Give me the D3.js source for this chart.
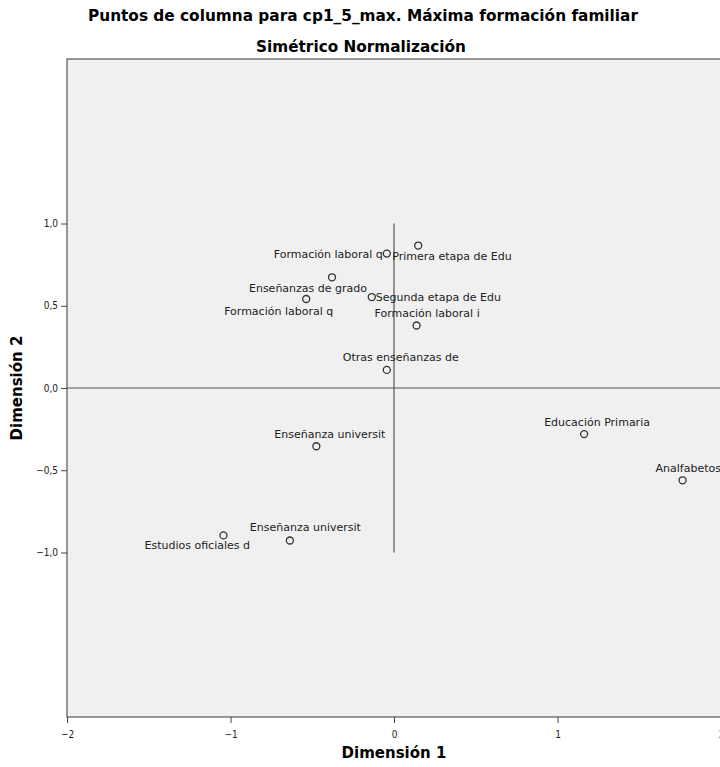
<!DOCTYPE html>
<html>
<head>
<meta charset="utf-8">
<script src="https://cdn.jsdelivr.net/npm/d3@7"></script>
<style>
  body { margin: 0; background: #fff; }
  svg text { font-family: "DejaVu Sans", sans-serif; }
</style>
</head>
<body>
<svg id="chart" width="720" height="767"></svg>
<script>
// column points (Dimension 1, Dimension 2)
const categories = [
  "Formación laboral q", "Primera etapa de Edu", "Enseñanzas de grado",
  "Formación laboral q", "Segunda etapa de Edu", "Formación laboral i",
  "Otras enseñanzas de", "Enseñanza universit", "Enseñanza universit",
  "Estudios oficiales d", "Educación Primaria", "Analfabetos"
];
const dim1 = [-0.044, 0.148, -0.379, -0.537, -0.136, 0.138, -0.044, -0.475, -0.637, -1.043, 1.163, 1.765];
const dim2 = [0.817, 0.866, 0.673, 0.541, 0.553, 0.380, 0.110, -0.354, -0.927, -0.896, -0.280, -0.561];
const xTicks = [-2, -1, 0, 1, 2];
const yTicks = [-1, -0.5, 0, 0.5, 1];

// label placement relative to each point
const labelPos = [
  [-4, 4, "end"], [-26, 14, "start"], [35, 15, "end"], [27, 16, "end"],
  [4, 4, "start"], [-42, -8, "start"], [-44, -9, "start"], [-42, -8, "start"],
  [-40, -9, "start"], [-79, 14, "start"], [-40, -8, "start"], [-27, -8, "start"]
];

const margin = {top: 59, right: -1, bottom: 50, left: 67};
const width = 720, height = 767;
const svg = d3.select("#chart");

const x = d3.scaleLinear().domain([-2, 2]).range([margin.left, width - margin.right]);
const y = d3.scaleLinear().domain([-2, 2]).range([height - margin.bottom, margin.top]);

// plot background
svg.append("rect")
    .attr("x", x(-2)).attr("y", y(2))
    .attr("width", x(2) - x(-2)).attr("height", y(-2) - y(2))
    .attr("fill", "#f0f0f0")
    .attr("stroke", "#555").attr("stroke-width", 1.2);

// titles
svg.append("text").attr("x", 363).attr("y", 21)
    .attr("text-anchor", "middle").attr("font-weight", "bold").attr("font-size", 16)
    .attr("textLength", 550).attr("lengthAdjust", "spacingAndGlyphs")
    .text("Puntos de columna para cp1_5_max. Máxima formación familiar");
svg.append("text").attr("x", 361).attr("y", 52)
    .attr("text-anchor", "middle").attr("font-weight", "bold").attr("font-size", 16)
    .attr("textLength", 210).attr("lengthAdjust", "spacingAndGlyphs")
    .text("Simétrico Normalización");

// axes
const xAxis = svg.append("g")
    .attr("transform", "translate(0," + y(-2) + ")")
    .call(d3.axisBottom(x).tickValues(xTicks).tickSize(6).tickSizeOuter(0)
      .tickFormat(d3.format("d")));
const yAxis = svg.append("g")
    .attr("transform", "translate(" + x(-2) + ",0)")
    .call(d3.axisLeft(y).tickValues(yTicks).tickSize(6).tickSizeOuter(0)
      .tickFormat(function(d) { return d3.format(".1f")(d).replace(".", ","); }));
[xAxis, yAxis].forEach(function(a) {
  a.select(".domain").remove();
  a.selectAll("line").attr("stroke", "#444");
  a.selectAll("text").attr("font-size", 10).attr("fill", "#222")
      .style("font-family", "DejaVu Sans Condensed, DejaVu Sans, sans-serif");
});
xAxis.selectAll("text").attr("dy", "1.2em");

svg.append("text").attr("x", 394).attr("y", 758)
    .attr("text-anchor", "middle").attr("font-weight", "bold").attr("font-size", 15)
    .text("Dimensión 1");
svg.append("text")
    .attr("transform", "translate(22," + y(0) + ") rotate(-90)")
    .attr("text-anchor", "middle").attr("font-weight", "bold").attr("font-size", 15)
    .text("Dimensión 2");

// reference lines
svg.append("line")
    .attr("x1", x(-2)).attr("x2", x(2)).attr("y1", y(0)).attr("y2", y(0))
    .attr("stroke", "#555").attr("stroke-width", 1.2);
svg.append("line")
    .attr("x1", x(0)).attr("x2", x(0)).attr("y1", y(1)).attr("y2", y(-1))
    .attr("stroke", "#555").attr("stroke-width", 1.2);

// points and labels
const pts = svg.selectAll("g.pt")
    .data(categories)
    .enter()
    .append("g")
    .attr("class", "pt")
    .attr("transform", function(d, i) {
      return "translate(" + x(dim1[i]) + "," + y(dim2[i]) + ")";
    });
pts.append("circle")
    .attr("r", 3.5)
    .attr("fill", "none")
    .attr("stroke", "#333")
    .attr("stroke-width", 1.3);
pts.append("text")
    .attr("x", function(d, i) { return labelPos[i][0]; })
    .attr("y", function(d, i) { return labelPos[i][1]; })
    .attr("text-anchor", function(d, i) { return labelPos[i][2]; })
    .attr("font-size", 11)
    .attr("fill", "#222")
    .text(function(d) { return d; });
</script>
</body>
</html>
